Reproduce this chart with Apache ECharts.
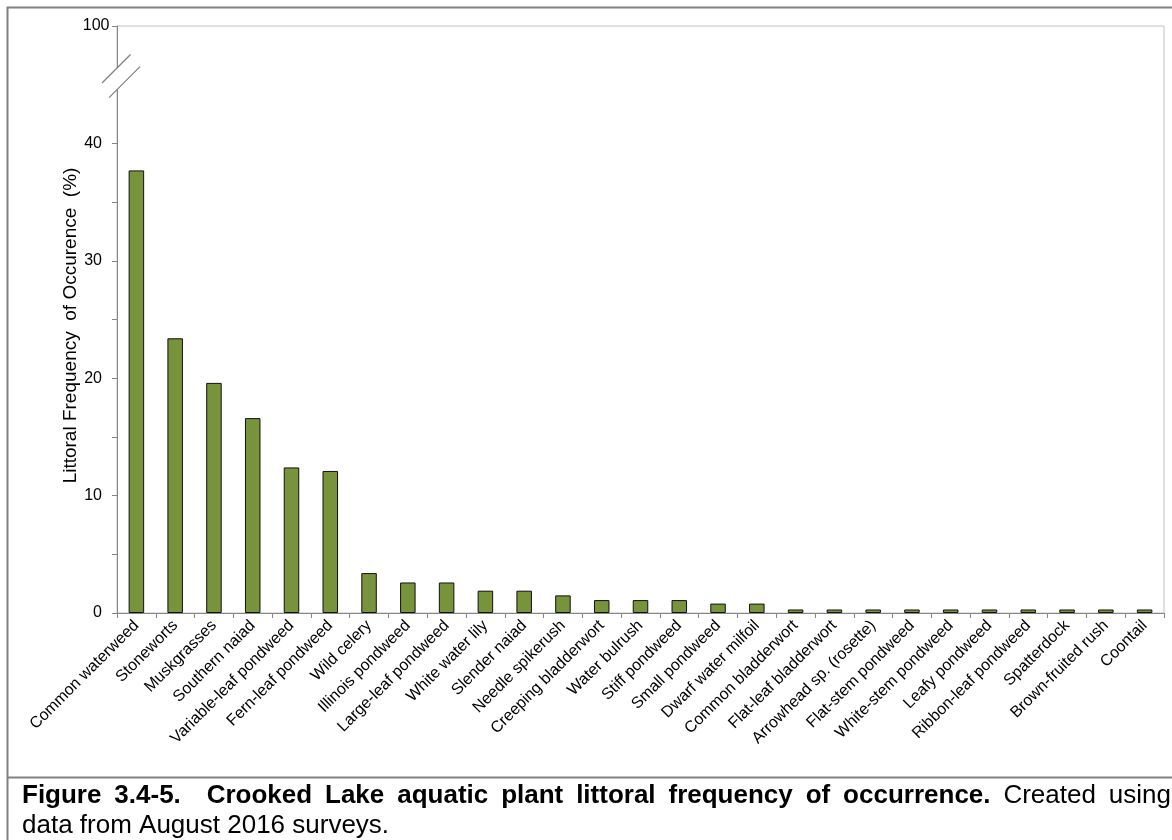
<!DOCTYPE html>
<html>
<head>
<meta charset="utf-8">
<script src="https://cdn.jsdelivr.net/npm/echarts@6/dist/echarts.min.js"></script>
<style>
html,body{margin:0;padding:0;background:#fff;}
#c{width:1172px;height:840px;}
</style>
</head>
<body>
<div id="c"></div>
<script>
// ---- data ----
const categories = [
  'Common waterweed','Stoneworts','Muskgrasses','Southern naiad','Variable-leaf pondweed',
  'Fern-leaf pondweed','Wild celery','Illinois pondweed','Large-leaf pondweed','White water lily',
  'Slender naiad','Needle spikerush','Creeping bladderwort','Water bulrush','Stiff pondweed',
  'Small pondweed','Dwarf water milfoil','Common bladderwort','Flat-leaf bladderwort',
  'Arrowhead sp. (rosette)','Flat-stem pondweed','White-stem pondweed','Leafy pondweed',
  'Ribbon-leaf pondweed','Spatterdock','Brown-fruited rush','Coontail'
];
const frequency = [
  37.7, 23.4, 19.6, 16.6, 12.4,
  12.1, 3.4, 2.6, 2.6, 1.9,
  1.9, 1.5, 1.1, 1.1, 1.1,
  0.8, 0.8, 0.3, 0.3,
  0.3, 0.3, 0.3, 0.3,
  0.3, 0.3, 0.3, 0.3
];
// axis positions (broken axis: the top position is labelled 100)
const yTickValues = [0, 10, 20, 30, 40, 50];
const yTickLabels = ['0', '10', '20', '30', '40', '100'];
const yAxisTitle = 'Littoral Frequency  of Occurence  (%)';
const captionBold = 'Figure 3.4-5.  Crooked Lake aquatic plant littoral frequency of occurrence.';
const captionNormal = 'Created using';
const captionLine2 = 'data from August 2016 surveys.';

const FF = '"Liberation Sans", Arial, Helvetica, sans-serif';
const chart = echarts.init(document.getElementById('c'), null, {renderer: 'canvas'});
const TOP_VALUE = yTickValues[yTickValues.length - 1];

chart.setOption({
  animation: false,
  backgroundColor: '#ffffff',
  textStyle: {fontFamily: FF},
  grid: {left: 117, top: 26, right: 8, bottom: 227, show: true, borderColor: '#c0c0c0', borderWidth: 1, containLabel: false},
  xAxis: {
    type: 'category',
    data: categories,
    axisLine: {lineStyle: {color: '#868686', width: 1}},
    axisTick: {show: true, alignWithLabel: false, length: 5, lineStyle: {color: '#868686'}},
    axisLabel: {interval: 0, rotate: 45, fontSize: 16, color: '#000', margin: 10, fontFamily: FF},
    splitLine: {show: false}
  },
  yAxis: {
    type: 'value',
    min: 0, max: TOP_VALUE, interval: 5,
    name: yAxisTitle,
    nameLocation: 'middle',
    nameGap: 37,
    nameMoveOverlap: false,
    nameTextStyle: {fontSize: 19, color: '#000', fontFamily: FF, padding: [0, 12, 0, 0]},
    axisLine: {show: true, lineStyle: {color: '#868686', width: 1}},
    axisTick: {show: true, length: 5, lineStyle: {color: '#868686'}},
    axisLabel: {
      fontSize: 16, color: '#000', margin: 15, fontFamily: FF,
      formatter: function (v) {
        if (v === TOP_VALUE) return '';
        const i = yTickValues.indexOf(v); return i < 0 ? '' : yTickLabels[i];
      }
    },
    splitLine: {show: false}
  },
  series: [{
    type: 'bar',
    data: frequency,
    barWidth: '40%',
    itemStyle: {color: '#77933c', borderColor: '#111', borderWidth: 1}
  }]
});

// ---- decorations: frame, axis break marks, top label, caption ----
function buildGraphics() {
  const g = [];
  const gray = '#808080';
  g.push({type: 'polyline', shape: {points: [[7.5, 840], [7.5, 7.5], [1172, 7.5]]}, style: {stroke: gray, lineWidth: 2, fill: null}, z: 100});
  g.push({type: 'line', shape: {x1: 7, y1: 777.5, x2: 1172, y2: 777.5}, style: {stroke: gray, lineWidth: 2}, z: 100});

  const c0 = chart.convertToPixel({xAxisIndex: 0}, 0), c1 = chart.convertToPixel({xAxisIndex: 0}, 1);
  const ax = c0 - (c1 - c0) / 2;
  const yc = chart.convertToPixel({yAxisIndex: 0}, 45.5);
  const d = 10.8;
  g.push({type: 'polygon', shape: {points: [[ax - 6, yc - d + 6], [ax + 6, yc - d - 6], [ax + 6, yc + d - 6], [ax - 6, yc + d + 6]]}, style: {fill: '#fff', stroke: null}, z: 100});
  g.push({type: 'line', shape: {x1: ax - 15, y1: yc - d + 15, x2: ax + 13.5, y2: yc - d - 13.5}, style: {stroke: gray, lineWidth: 1.3}, z: 101});
  g.push({type: 'line', shape: {x1: ax - 8, y1: yc + d + 8, x2: ax + 23, y2: yc + d - 23}, style: {stroke: gray, lineWidth: 1.3}, z: 101});

  // top tick label of the broken axis
  const yTop = chart.convertToPixel({yAxisIndex: 0}, TOP_VALUE);
  g.push({type: 'text', x: ax - 7.5, y: yTop, z: 100, style: {text: yTickLabels[yTickLabels.length - 1], fontSize: 16, fontFamily: FF, fill: '#000', align: 'right', verticalAlign: 'middle'}});

  // caption (line 1 justified)
  const fs = 26;
  const ctx = document.createElement('canvas').getContext('2d');
  const tokens = [];
  captionBold.split(/( +)/).forEach(s => { if (s) tokens.push({s: s, bold: true}); });
  tokens.push({s: ' ', bold: false});
  captionNormal.split(/( +)/).forEach(s => { if (s) tokens.push({s: s, bold: false}); });
  let natural = 0, nsp = 0;
  tokens.forEach(tk => {
    ctx.font = (tk.bold ? 'bold ' : '') + fs + 'px ' + FF;
    tk.w = ctx.measureText(tk.s).width;
    tk.space = /^ +$/.test(tk.s);
    if (tk.space) nsp += tk.s.length;
    natural += tk.w;
  });
  const x0 = 22, x1 = 1171;
  const extra = (x1 - x0 - natural) / nsp;
  let x = x0;
  tokens.forEach(tk => {
    if (tk.space) { x += tk.w + extra * tk.s.length; return; }
    g.push({type: 'text', x: x, y: 796, z: 100, style: {text: tk.s, fontSize: fs, fontWeight: tk.bold ? 'bold' : 'normal', fontFamily: FF, fill: '#000', verticalAlign: 'middle', align: 'left'}});
    x += tk.w;
  });
  g.push({type: 'text', x: x0, y: 826, z: 100, style: {text: captionLine2, fontSize: fs, fontFamily: FF, fill: '#000', verticalAlign: 'middle', align: 'left'}});
  return g;
}
chart.setOption({graphic: buildGraphics()});
</script>
</body>
</html>
